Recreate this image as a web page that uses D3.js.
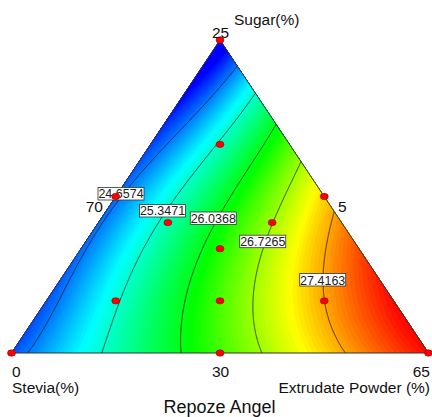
<!DOCTYPE html>
<html><head><meta charset="utf-8">
<script src="https://cdn.jsdelivr.net/npm/d3@7"></script>
<style>
body{margin:0;background:#fff;}
text{font-family:"Liberation Sans",Arial,sans-serif;}
</style></head><body>
<svg id="mysvg" width="432" height="417"></svg>
<script>
// design points, pseudo-component fractions (stevia = 1 - sugar - extrudate)
const designSugar = [1, 0, 0, 0.5, 0.5, 0, 2/3, 5/12, 5/12, 1/3, 1/6, 1/6, 1/6];
const designExtr  = [0, 0, 1, 0, 0.5, 0.5, 1/6, 1/6, 5/12, 1/3, 1/6, 5/12, 2/3];

const contourLevels = [24.6574, 25.3471, 26.0368, 26.7265, 27.4163];

// mixture model coefficients (fitted to the contours)
// terms: a, b, c, ab, ac, bc, ab(a-b), ac(a-c), bc(b-c), a2bc, ab2c, abc2, ab(a-b)2, ac(a-c)2, bc(b-c)2
const modelCoef = [23.9294, 24.4966, 28.0203, 1.4930, 5.0463, 0.4461, 0.2676, 0.1785,
  -0.0712, -3.6319, 0.5406, 1.4912, -1.2203, -0.0800, 0.3552];

// where the value boxes sit on each contour
const labelSugar = [0.508, 0.4537, 0.4297, 0.3556, 0.2332];
const labelExtr  = [0.0086, 0.1353, 0.269, 0.4247, 0.6297];

const basis = (a, b, c) => [a, b, c, a*b, a*c, b*c, a*b*(a-b), a*c*(a-c), b*c*(b-c),
  a*a*b*c, a*b*b*c, a*b*c*c, a*b*(a-b)*(a-b), a*c*(a-c)*(a-c), b*c*(b-c)*(b-c)];
const model = (a, b, c) => d3.sum(basis(a, b, c), (v, i) => v * modelCoef[i]);

const svg = d3.select("#mysvg");
const ySc = d3.scaleLinear().domain([0, 1]).range([353, 40]);
const xSc = d3.scaleLinear().domain([0, 1]).range([11.5, 428.5]);
const proj = (a, c) => [xSc(c + a / 2), ySc(a)];

const color = d3.scaleLinear()
  .domain([24.2, 25.16, 26.13, 27.09, 28.05])
  .range(["#0000ff", "#00ffff", "#00ff00", "#ffff00", "#ff0000"])
  .clamp(true);

// sample the model on a pixel grid
const x0 = 6, y0 = 35, nx = 428, ny = 324;
const values = new Array(nx * ny);
for (let j = 0; j < ny; j++) for (let i = 0; i < nx; i++) {
  const a = ySc.invert(y0 + j + 0.5);
  const c = xSc.invert(x0 + i + 0.5) - a / 2;
  values[j * nx + i] = model(a, 1 - a - c, c);
}
const geo = d3.geoPath(d3.geoIdentity().translate([x0, y0]));

const tri = [proj(1, 0), proj(0, 0), proj(0, 1)];
svg.append("clipPath").attr("id", "tri").append("path").attr("d", "M" + tri.join("L") + "Z");

const g = svg.append("g").attr("clip-path", "url(#tri)");
const bands = d3.range(23.6, 28.4, 0.04);
g.selectAll("path.band")
  .data(d3.contours().size([nx, ny]).thresholds(bands)(values))
  .join("path")
  .attr("class", "band")
  .attr("d", geo)
  .attr("fill", d => color(d.value + 0.02))
  .attr("stroke", d => color(d.value + 0.02))
  .attr("stroke-width", 0.5);

g.selectAll("path.level")
  .data(d3.contours().size([nx, ny]).thresholds(contourLevels)(values))
  .join("path")
  .attr("class", "level")
  .attr("d", geo)
  .attr("fill", "none")
  .attr("stroke", "#1a1a1a")
  .attr("stroke-width", 0.8);

svg.append("path")
  .attr("d", "M" + tri.join("L") + "Z")
  .attr("fill", "none").attr("stroke", "#333").attr("stroke-width", 1);

// contour value boxes
const lab = svg.selectAll("g.lab").data(contourLevels).join("g")
  .attr("class", "lab")
  .attr("transform", (d, i) => "translate(" + proj(labelSugar[i], labelExtr[i]) + ")");
lab.append("rect").attr("x", -23).attr("y", -6.5).attr("width", 46).attr("height", 12.5)
  .attr("fill", "#fff").attr("stroke", "#333").attr("stroke-width", 0.8);
lab.append("text").attr("text-anchor", "middle").attr("y", 4.5)
  .attr("font-size", 12.5).attr("fill", "#222").text(d => d);

// design points
svg.selectAll("ellipse").data(designSugar).join("ellipse")
  .attr("cx", (d, i) => proj(d, designExtr[i])[0])
  .attr("cy", (d, i) => proj(d, designExtr[i])[1])
  .attr("rx", 4).attr("ry", 3.2)
  .attr("fill", "#f00").attr("stroke", "#900").attr("stroke-width", 0.6);

// axis texts
const txt = (x, y, s, anchor, size) => svg.append("text")
  .attr("x", x).attr("y", y).attr("text-anchor", anchor || "start")
  .attr("font-size", size || 15.5).attr("fill", "#111").text(s);
txt(234, 25, "Sugar(%)");
txt(220.5, 38, "25", "middle");
txt(103, 212, "70", "end");
txt(338, 212, "5");
txt(12, 377, "0");
txt(220.5, 377, "30", "middle");
txt(430, 377, "65", "end");
txt(12, 393, "Stevia(%)");
txt(430, 393, "Extrudate Powder (%)", "end");
txt(219.5, 413, "Repoze Angel", "middle", 18);
</script>
</body></html>
